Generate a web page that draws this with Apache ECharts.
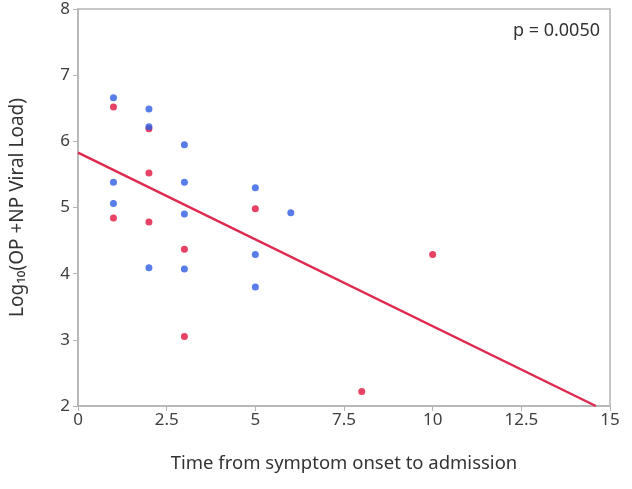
<!DOCTYPE html>
<html>
<head>
<meta charset="utf-8">
<script src="https://cdn.jsdelivr.net/npm/echarts@6/dist/echarts.min.js"></script>
<style>html,body{margin:0;padding:0;background:#fff;}#c{width:632px;height:489px;}</style>
</head>
<body>
<div id="c"></div>
<script>
const xTicks = [0, 2.5, 5, 7.5, 10, 12.5, 15];
const yTicks = [2, 3, 4, 5, 6, 7, 8];
const blueX = [1, 1, 1, 2, 2, 2, 3, 3, 3, 3, 5, 5, 5, 6];
const blueY = [6.66, 5.38, 5.06, 6.49, 6.22, 4.09, 5.95, 5.38, 4.90, 4.07, 5.30, 4.29, 3.80, 4.92];
const redX = [1, 1, 2, 2, 2, 3, 3, 5, 8, 10];
const redY = [6.52, 4.84, 6.19, 5.52, 4.78, 4.37, 3.05, 4.98, 2.22, 4.29];
const fitX = [0, 14.6];
const fitY = [5.83, 2.0];
const pLabel = 'p = 0.0050';

const zip = (a, b) => a.map((v, i) => [v, b[i]]);
const font = 'Noto Sans';
const chart = echarts.init(document.getElementById('c'));
chart.setOption({
  animation: false,
  backgroundColor: '#ffffff',
  textStyle: { fontFamily: font },
  grid: { left: 77, right: 22, top: 9, bottom: 83, show: true, borderColor: '#b4b4b4', borderWidth: 1.5 },
  title: { text: pLabel, right: 27, top: 17, textStyle: { fontFamily: font, fontSize: 18, fontWeight: 'normal', color: '#333' } },
  xAxis: {
    type: 'value', min: xTicks[0], max: xTicks[xTicks.length - 1], interval: 2.5,
    name: 'Time from symptom onset to admission', nameLocation: 'middle', nameGap: 48,
    nameTextStyle: { fontFamily: font, fontSize: 18.5, color: '#333' },
    axisLine: { lineStyle: { color: '#b4b4b4', width: 1.5 } },
    axisTick: { show: true, length: 5, lineStyle: { color: '#b4b4b4' } },
    axisLabel: { fontFamily: font, fontSize: 17, color: '#404040', margin: 6 },
    splitLine: { show: false }
  },
  yAxis: {
    type: 'value', min: yTicks[0], max: yTicks[yTicks.length - 1], interval: 1,
    name: 'Log₁₀(OP +NP Viral Load)', nameLocation: 'middle', nameGap: 51,
    nameTextStyle: { fontFamily: font, fontSize: 19, color: '#333' },
    axisLine: { show: true, lineStyle: { color: '#b4b4b4', width: 1.5 } },
    axisTick: { show: true, length: 5, lineStyle: { color: '#b4b4b4' } },
    axisLabel: { fontFamily: font, fontSize: 17, color: '#404040', margin: 8 },
    splitLine: { show: false }
  },
  series: [
    { type: 'line', data: zip(fitX, fitY), symbol: 'none', lineStyle: { color: '#e0294f', width: 2.5 }, z: 1 },
    { type: 'scatter', data: zip(blueX, blueY), symbolSize: 7, itemStyle: { color: '#2d5ce4' }, z: 3 },
    { type: 'scatter', data: zip(redX, redY), symbolSize: 7, itemStyle: { color: '#e1133d' }, z: 2 }
  ]
});
</script>
</body>
</html>
